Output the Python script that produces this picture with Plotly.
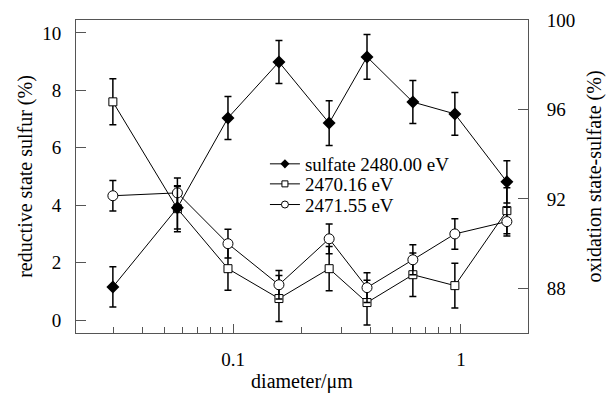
import plotly.graph_objects as go

# ---- data ----
diameter = [0.0297, 0.057, 0.095, 0.159, 0.264, 0.387, 0.615, 0.94, 1.59]
sulfate_2480 = [88.06, 91.6, 95.62, 98.12, 95.39, 98.35, 96.33, 95.8, 92.76]
sulfate_2480_err = [0.9, 0.95, 0.96, 0.96, 1.0, 1.0, 0.96, 0.96, 0.95]
red_2470 = [7.6, 3.88, 1.79, 0.75, 1.79, 0.61, 1.58, 1.2, 3.81]
red_2470_err = [0.8, 0.8, 0.75, 0.8, 0.77, 0.78, 0.76, 0.78, 0.8]
red_2471 = [4.33, 4.43, 2.66, 1.23, 2.83, 1.13, 2.1, 3.0, 3.43]
red_2471_err = [0.53, 0.52, 0.5, 0.5, 0.52, 0.52, 0.52, 0.53, 0.5]

x_major = [0.1, 1]
x_major_text = ["0.1", "1"]
x_minor = [0.03, 0.04, 0.05, 0.06, 0.07, 0.08, 0.09,
           0.2, 0.3, 0.4, 0.5, 0.6, 0.7, 0.8, 0.9]
y_left_ticks = [0, 2, 4, 6, 8, 10]
y_right_ticks = [88, 92, 96, 100]

FONT = "Liberation Serif"
BLACK = "#000000"
FRAME = "#555555"

fig = go.Figure()

def err(vals):
    return dict(type="data", array=vals, color=BLACK, thickness=1.5, width=3.5)

# real traces (no legend)
fig.add_trace(go.Scatter(
    x=diameter, y=red_2470, yaxis="y", mode="lines+markers", showlegend=False,
    line=dict(color=BLACK, width=1),
    marker=dict(symbol="square", size=8, color="white", line=dict(color=BLACK, width=1)),
    error_y=err(red_2470_err)))
fig.add_trace(go.Scatter(
    x=diameter, y=red_2471, yaxis="y", mode="lines+markers", showlegend=False,
    line=dict(color=BLACK, width=1),
    marker=dict(symbol="circle", size=10, color="white", line=dict(color=BLACK, width=1)),
    error_y=err(red_2471_err)))
fig.add_trace(go.Scatter(
    x=diameter, y=sulfate_2480, yaxis="y2", mode="lines+markers", showlegend=False,
    line=dict(color=BLACK, width=1),
    marker=dict(symbol="diamond", size=10, color=BLACK, line=dict(color=BLACK, width=0)),
    error_y=err(sulfate_2480_err)))

# legend entries (one legend per row for tight spacing)
fig.add_trace(go.Scatter(
    x=[None], y=[None], mode="lines+markers", name="sulfate 2480.00 eV",
    legend="legend",
    line=dict(color=BLACK, width=1),
    marker=dict(symbol="diamond", size=7, color=BLACK)))
fig.add_trace(go.Scatter(
    x=[None], y=[None], mode="lines+markers", name="2470.16 eV",
    legend="legend2",
    line=dict(color=BLACK, width=1),
    marker=dict(symbol="square", size=6, color="white", line=dict(color=BLACK, width=1))))
fig.add_trace(go.Scatter(
    x=[None], y=[None], mode="lines+markers", name="2471.55 eV",
    legend="legend3",
    line=dict(color=BLACK, width=1),
    marker=dict(symbol="circle", size=7, color="white", line=dict(color=BLACK, width=1))))

def leg(ypos):
    return dict(x=0.418, y=ypos, xanchor="left", yanchor="middle",
                bgcolor="rgba(0,0,0,0)", borderwidth=0,
                font=dict(family=FONT, size=19, color=BLACK),
                itemwidth=30)

fig.update_layout(
    width=607, height=393,
    margin=dict(l=76, r=79, t=20, b=60, autoexpand=False),
    paper_bgcolor="white", plot_bgcolor="white",
    font=dict(family=FONT, size=19, color=BLACK),
    showlegend=True,
    legend=leg(0.540),
    legend2=leg(0.476),
    legend3=leg(0.410),
    xaxis=dict(
        type="log", range=[-1.689, 0.294], automargin=False,
        showgrid=False, zeroline=False,
        showline=True, linecolor=FRAME, linewidth=1, mirror=True,
        tickvals=x_major, ticktext=x_major_text,
        ticks="inside", ticklen=9, tickcolor=FRAME, tickwidth=1,
        minor=dict(tickvals=x_minor, ticks="inside", ticklen=6,
                   tickcolor=FRAME, tickwidth=1, showgrid=False),
        tickfont=dict(family=FONT, size=19, color=BLACK),
        ticklabelstandoff=9,
        title=dict(text="diameter/μm", font=dict(family=FONT, size=20, color=BLACK),
                   standoff=8),
    ),
    yaxis=dict(
        range=[-0.45, 10.45], automargin=False,
        showgrid=False, zeroline=False,
        showline=True, linecolor=FRAME, linewidth=1,
        tickvals=y_left_ticks,
        ticks="inside", ticklen=10, tickcolor=FRAME, tickwidth=1,
        tickfont=dict(family=FONT, size=19, color=BLACK),
        ticklabelstandoff=10,
        title=dict(text="reductive state sulfur (%)",
                   font=dict(family=FONT, size=20, color=BLACK), standoff=4),
    ),
    yaxis2=dict(
        overlaying="y", side="right",
        range=[86.0, 100.0], automargin=False,
        showgrid=False, zeroline=False,
        showline=True, linecolor=FRAME, linewidth=1,
        tickvals=y_right_ticks,
        ticks="inside", ticklen=10, tickcolor=FRAME, tickwidth=1,
        tickfont=dict(family=FONT, size=19, color=BLACK),
        ticklabelstandoff=14,
        title=dict(text="oxidation state-sulfate (%)",
                   font=dict(family=FONT, size=20, color=BLACK), standoff=12),
    ),
)

fig.write_html("out.html")
